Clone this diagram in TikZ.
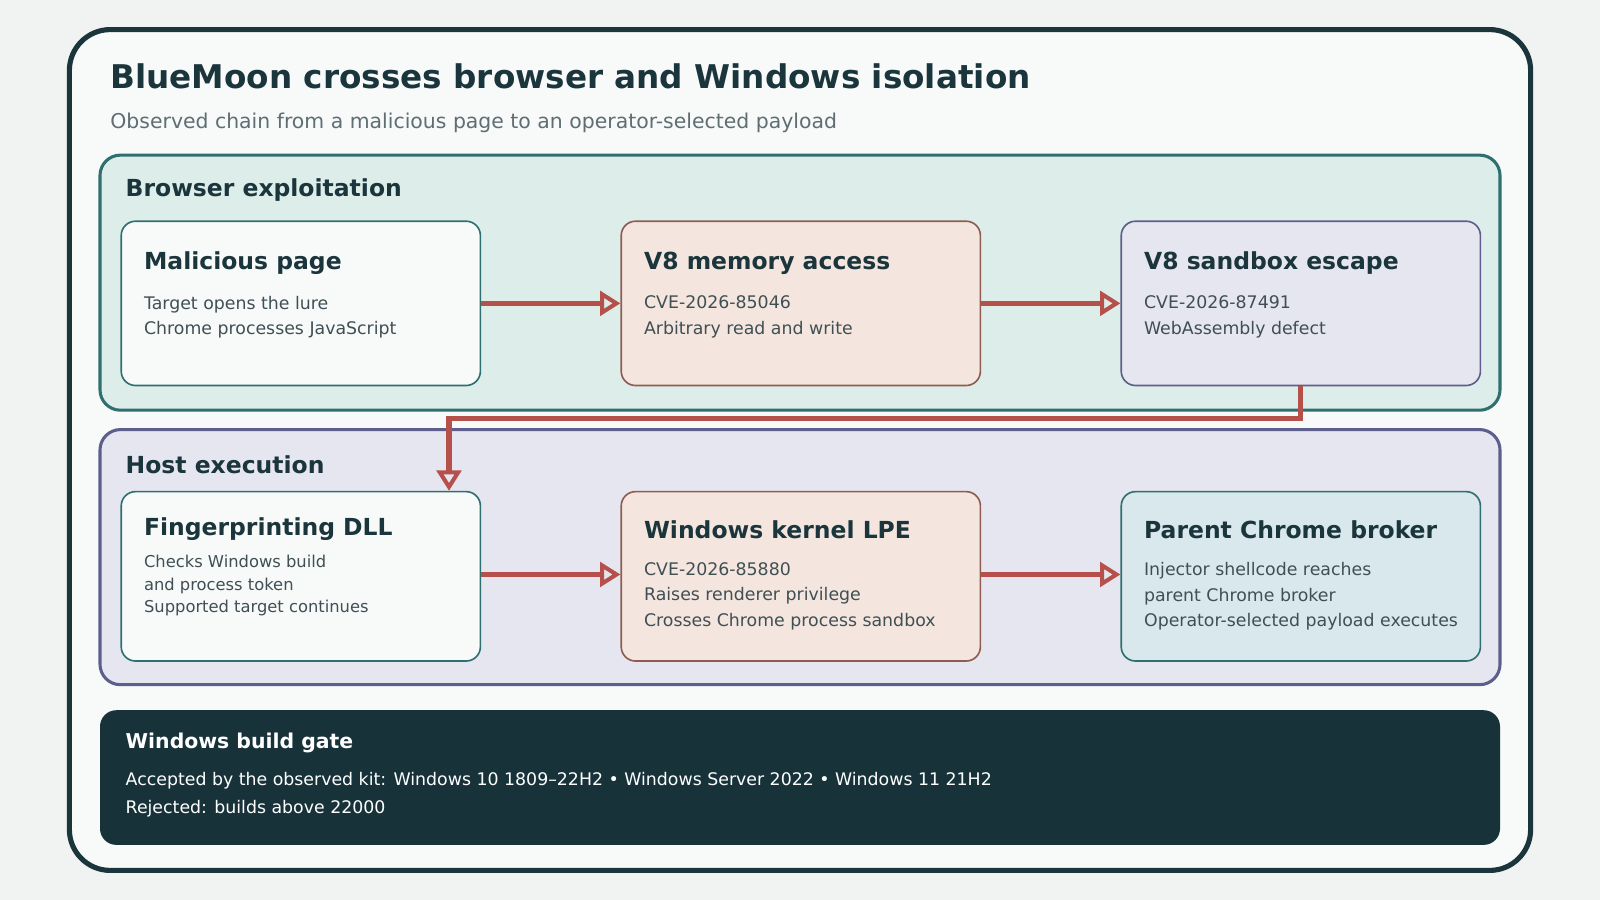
\documentclass[tikz,border=0pt]{standalone}
\usepackage{fontspec}
\setmainfont{DejaVu Sans}
\usetikzlibrary{arrows.meta,positioning}
\definecolor{pagebg}{HTML}{F0F3F2}
\definecolor{card}{HTML}{F8FAF9}
\definecolor{ink}{HTML}{1B353C}
\definecolor{muted}{HTML}{5F6E72}
\definecolor{body}{HTML}{3F4F54}
\definecolor{tealfill}{HTML}{DDEDEA}
\definecolor{tealline}{HTML}{2E7070}
\definecolor{lavfill}{HTML}{E6E6F0}
\definecolor{lavline}{HTML}{5E5E8C}
\definecolor{peachfill}{HTML}{F4E6DE}
\definecolor{peachline}{HTML}{8E5C50}
\definecolor{bluefill}{HTML}{D9E8EC}
\definecolor{flow}{HTML}{B5504A}
\definecolor{gate}{HTML}{18323A}
\newcommand{\fs}[1]{\fontsize{#1}{#1}\selectfont}
\begin{document}
\begin{tikzpicture}[x=1pt,y=-1pt,
	group/.style={draw, line width=3pt, rounded corners=20pt},
	stage/.style={draw, line width=1.6pt, rounded corners=14pt, anchor=north west,
		minimum width=352pt, minimum height=161pt, inner sep=0pt},
	heading/.style={anchor=west, text=ink, font=\fs{23}\bfseries, inner sep=0pt},
	detail/.style={anchor=north west, text=body, font=\fs{17}, align=left, inner sep=0pt},
	flowline/.style={draw=flow, line width=5pt, -{Triangle[open,length=20pt,width=24pt,line width=4pt]}}]
	% background and frame
	\fill[pagebg] (0,0) rectangle (1568,882);
	\useasboundingbox (0,0) rectangle (1568,882);
	\draw[ink, fill=card, line width=5pt, rounded corners=40pt] (68,29) rectangle (1500,853);
	\node[anchor=west, text=ink, font=\fs{32}\bfseries, inner sep=0pt] (title) at (108,75) {BlueMoon crosses browser and Windows isolation};
	\node[anchor=west, text=muted, font=\fs{20}, inner sep=0pt] (subtitle) at (108,120) {Observed chain from a malicious page to an operator-selected payload};
	% groups
	\draw[group, tealline, fill=tealfill] (98,152) rectangle (1470,402);
	\node[heading, font=\fs{23}\bfseries] (browser) at (123,186) {Browser exploitation};
	\draw[group, lavline, fill=lavfill] (98,421) rectangle (1470,671);
	\node[heading, font=\fs{23}\bfseries] (host) at (123,455) {Host execution};
	% row one
	\node[stage, tealline, fill=card] (page) at (118,216) {};
	\node[stage, peachline, fill=peachfill] (memory) at (608,216) {};
	\node[stage, lavline, fill=lavfill] (escape) at (1098,216) {};
	\node[heading] at (141,258) {Malicious page};
	\node[detail] at (141,290) {Target opens the lure\\[8pt]Chrome processes JavaScript};
	\node[heading] at (631,258) {V8 memory access};
	\node[detail] at (631,290) {CVE-2026-85046\\[8pt]Arbitrary read and write};
	\node[heading] at (1121,258) {V8 sandbox escape};
	\node[detail] at (1121,290) {CVE-2026-87491\\[8pt]WebAssembly defect};
	% row two
	\node[stage, tealline, fill=card, minimum height=166pt] (dll) at (118,481) {};
	\node[stage, peachline, fill=peachfill, minimum height=166pt] (kernel) at (608,481) {};
	\node[stage, tealline, fill=bluefill, minimum height=166pt] (broker) at (1098,481) {};
	\node[heading] at (141,519) {Fingerprinting DLL};
	\node[detail, font=\fs{16}] at (141,544) {Checks Windows build\\[6pt]and process token\\[6pt]Supported target continues};
	\node[heading] at (631,519) {Windows kernel LPE};
	\node[detail] at (631,551) {CVE-2026-85880\\[8pt]Raises renderer privilege\\[8pt]Crosses Chrome process sandbox};
	\node[heading] at (1121,519) {Parent Chrome broker};
	\node[detail] at (1121,551) {Injector shellcode reaches\\[8pt]parent Chrome broker\\[8pt]Operator-selected payload executes};
	% connectors
	\draw[flowline] (page.east) -- (memory.west);
	\draw[flowline] (memory.east) -- (escape.west);
	\draw[flowline] (escape.south) |- (440,410) -- (440,481);
	\draw[flowline] (dll.east |- 0,563) -- (kernel.west |- 0,563);
	\draw[flowline] (kernel.east |- 0,563) -- (broker.west |- 0,563);
	% build gate
	\fill[gate, rounded corners=16pt] (98,696) rectangle (1470,828);
	\node[anchor=west, text=white, font=\fs{20}\bfseries, inner sep=0pt] (gatehead) at (123,728) {Windows build gate};
	\node[anchor=west, text=white, font=\fs{17}, inner sep=0pt] (accepted) at (123,765) {Accepted by the observed kit: Windows 10 1809–22H2 • Windows Server 2022 • Windows 11 21H2};
	\node[anchor=west, text=white, font=\fs{17}, inner sep=0pt] (rejected) at (123,793) {Rejected: builds above 22000};
\end{tikzpicture}
\end{document}
